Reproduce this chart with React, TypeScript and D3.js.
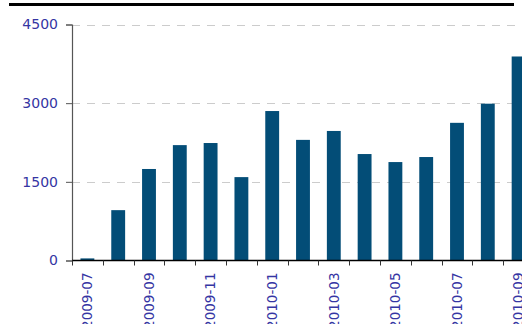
import React from 'react';
import { scaleBand, scaleLinear, select, axisLeft } from 'd3';

const months = [
    '2009-07', '2009-08', '2009-09', '2009-10', '2009-11', '2009-12',
    '2010-01', '2010-02', '2010-03', '2010-04', '2010-05', '2010-06',
    '2010-07', '2010-08', '2010-09',
];
const values = [40, 960, 1745, 2200, 2240, 1590, 2850, 2300, 2470, 2030, 1877, 1973, 2625, 2990, 3890];
const yTicks = [0, 1500, 3000, 4500];
const labelMonths = ['2009-07', '2009-09', '2009-11', '2010-01', '2010-03', '2010-05', '2010-07', '2010-09'];

const dimensions = {
    width: 522,
    height: 324,
    left: 72,
    right: 534,
    top: 24.5,
    bottom: 260.5,
};
const barColor = '#034d77';
const textColor = '#3535a3';

const App: React.FC = () => {
    const svgRef = React.useRef<SVGSVGElement>(null);

    React.useEffect(() => {
        const svg = select(svgRef.current);
        svg.selectAll('*').remove();

        const xScale = scaleBand()
            .domain(months)
            .range([dimensions.left, dimensions.right])
            .paddingInner(0.55)
            .paddingOuter(0.275);
        // same bands without padding, for the ticks between bars
        const xSlots = scaleBand().domain(months).range([dimensions.left, dimensions.right]);
        const yScale = scaleLinear().domain([0, 4500]).range([dimensions.bottom, dimensions.top]);

        // top rule
        svg.append('rect')
            .attr('x', 9).attr('y', 3)
            .attr('width', 505).attr('height', 3)
            .attr('fill', '#000');

        // grid
        svg.append('g')
            .selectAll('line')
            .data(yTicks.filter(d => d > 0))
            .join('line')
            .attr('x1', dimensions.left)
            .attr('x2', dimensions.width)
            .attr('y1', d => Math.round(yScale(d)) + 0.5)
            .attr('y2', d => Math.round(yScale(d)) + 0.5)
            .attr('stroke', '#cccccc')
            .attr('stroke-dasharray', '8,7');

        // bars
        svg.append('g')
            .selectAll('rect')
            .data(values)
            .join('rect')
            .attr('x', (d, i) => xScale(months[i]))
            .attr('width', xScale.bandwidth())
            .attr('y', d => yScale(d))
            .attr('height', d => yScale(0) - yScale(d))
            .attr('fill', barColor);

        // y axis
        const yAxisGroup = svg.append('g')
            .attr('transform', `translate(${dimensions.left}, 0)`)
            .call(axisLeft(yScale).tickValues(yTicks).tickSize(6).tickPadding(8).tickFormat(d => String(d)));
        yAxisGroup.select('.domain').attr('stroke', '#555').attr('stroke-width', 1.2);
        yAxisGroup.selectAll('.tick line').attr('stroke', '#555');
        yAxisGroup.selectAll('text')
            .attr('fill', textColor)
            .attr('font-family', '"DejaVu Sans", Verdana, sans-serif')
            .attr('font-size', 14);

        // x axis
        const xAxisGroup = svg.append('g');
        xAxisGroup.append('line')
            .attr('x1', dimensions.left).attr('x2', dimensions.width)
            .attr('y1', dimensions.bottom).attr('y2', dimensions.bottom)
            .attr('stroke', '#000').attr('stroke-width', 1.5);
        xAxisGroup.selectAll('.xtick')
            .data(months)
            .join('line')
            .attr('class', 'xtick')
            .attr('x1', d => Math.round(xSlots(d)) + 0.5)
            .attr('x2', d => Math.round(xSlots(d)) + 0.5)
            .attr('y1', dimensions.bottom)
            .attr('y2', dimensions.bottom + 5)
            .attr('stroke', '#333');
        // labels run off the bottom edge, as in the source image
        xAxisGroup.selectAll('.xlabel')
            .data(labelMonths)
            .join('text')
            .attr('class', 'xlabel')
            .attr('transform', d => `translate(${xScale(d) + xScale.bandwidth() / 2}, ${dimensions.bottom + 12}) rotate(-90)`)
            .attr('text-anchor', 'end')
            .attr('dy', '0.35em')
            .attr('fill', textColor)
            .attr('font-family', '"DejaVu Sans", Verdana, sans-serif')
            .attr('font-size', 13.5)
            .text(d => d);
    }, []);

    return (
        <svg
            ref={svgRef}
            width={dimensions.width}
            height={dimensions.height}
            style={{ position: 'absolute', left: 0, top: 0, background: '#fff' }}
        />
    );
};

export default App;
